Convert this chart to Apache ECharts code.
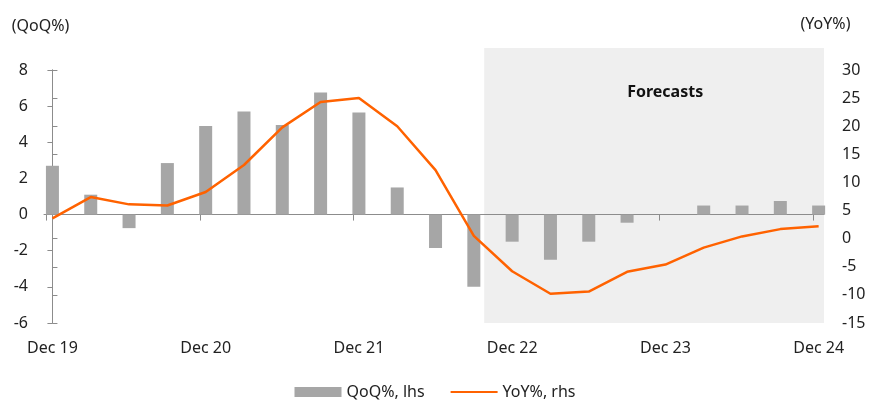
<!DOCTYPE html>
<html>
<head>
<meta charset="utf-8">
<style>
  html, body { margin: 0; padding: 0; background: #ffffff; }
  #chart { width: 870px; height: 400px; }
</style>
<script src="https://cdn.jsdelivr.net/npm/echarts@6/dist/echarts.min.js"></script>
</head>
<body>
<div id="chart"></div>
<script>
// Quarterly GDP: quarter-on-quarter (bars, left axis) and year-on-year (line, right axis)
const quarters = ['Dec 19', 'Mar 20', 'Jun 20', 'Sep 20', 'Dec 20', 'Mar 21', 'Jun 21', 'Sep 21',
  'Dec 21', 'Mar 22', 'Jun 22', 'Sep 22', 'Dec 22', 'Mar 23', 'Jun 23', 'Sep 23', 'Dec 23',
  'Mar 24', 'Jun 24', 'Sep 24', 'Dec 24'];
const qoq = [2.7, 1.1, -0.75, 2.85, 4.9, 5.7, 4.95, 6.75, 5.65, 1.5, -1.85, -4.0,
  -1.5, -2.5, -1.5, -0.45, 0.0, 0.5, 0.5, 0.75, 0.5];
const yoy = [3.6, 7.4, 6.1, 5.9, 8.3, 13.1, 19.8, 24.3, 25.0, 20.0, 12.2, 0.5,
  -5.8, -9.8, -9.4, -5.9, -4.6, -1.6, 0.4, 1.7, 2.2];
// Quarters that carry an axis label (every December)
const labelIndex = [0, 4, 8, 12, 16, 20];
// Forecast period starts after Sep 22 (index 11)
const forecastStart = 11.27;

const FONT = 'Noto Sans';
const TEXT = '#222222';
const AXIS = '#8c8c8c';
const BAR = '#a6a6a6';
const LINE = '#ff6200';

const toPairs = (arr) => arr.map((v, i) => [i, v]);

const chart = echarts.init(document.getElementById('chart'), null, { renderer: 'canvas' });

const xBase = {
  type: 'value',
  min: -0.22,
  max: 20.14,
  splitLine: { show: false }
};

chart.setOption({
  animation: false,
  textStyle: { fontFamily: FONT },
  grid: { left: 44, right: 46, top: 70, bottom: 77, containLabel: false },
  legend: {
    top: 379,
    left: 'center',
    itemWidth: 47,
    itemHeight: 10,
    itemGap: 25,
    textStyle: { fontFamily: FONT, fontSize: 16, color: TEXT },
    data: [
      { name: 'QoQ%, lhs', icon: 'rect' },
      { name: 'YoY%, rhs', itemStyle: { opacity: 0 } }
    ]
  },
  xAxis: [
    Object.assign({}, xBase, {
      position: 'bottom',
      axisLine: { show: false, onZero: false },
      axisTick: { show: false },
      axisLabel: {
        customValues: labelIndex,
        margin: 17,
        fontFamily: FONT,
        fontSize: 16,
        color: TEXT,
        formatter: (v) => quarters[Math.round(v)] || ''
      }
    }),
    Object.assign({}, xBase, {
      position: 'bottom',
      axisLine: { show: true, onZero: true, onZeroAxisIndex: 0, lineStyle: { color: AXIS, width: 1 } },
      axisTick: {
        show: true,
        length: 6,
        customValues: labelIndex.map((i) => i - 0.15),
        lineStyle: { color: AXIS }
      },
      axisLabel: { show: false }
    })
  ],
  yAxis: [
    {
      type: 'value',
      position: 'left',
      min: -6,
      max: 8,
      interval: 2,
      axisLine: { show: true, lineStyle: { color: AXIS } },
      axisTick: { show: true, length: 5, lineStyle: { color: AXIS } },
      axisLabel: { margin: 16, fontFamily: FONT, fontSize: 16, color: TEXT },
      splitLine: { show: false }
    },
    {
      type: 'value',
      position: 'right',
      min: -15,
      max: 30,
      interval: 5,
      axisLine: { show: true, lineStyle: { color: AXIS } },
      axisTick: { show: true, length: 5, lineStyle: { color: AXIS } },
      axisLabel: { margin: 18, fontFamily: FONT, fontSize: 16, color: TEXT },
      splitLine: { show: false }
    }
  ],
  series: [
    {
      name: 'QoQ%, lhs',
      type: 'bar',
      xAxisIndex: 0,
      yAxisIndex: 0,
      barWidth: 13,
      itemStyle: { color: BAR },
      z: 2,
      data: toPairs(qoq)
    },
    {
      name: 'YoY%, rhs',
      type: 'line',
      xAxisIndex: 0,
      yAxisIndex: 1,
      symbol: 'none',
      lineStyle: { color: LINE, width: 2.5 },
      itemStyle: { color: LINE },
      z: 3,
      data: toPairs(yoy)
    }
  ]
});

// Shaded forecast window, its heading and the axis units, placed from the grid
const gridRect = chart.getModel().getComponent('grid').coordinateSystem.getRect();
const shadeLeft = chart.convertToPixel({ xAxisIndex: 0 }, forecastStart);
const gridRight = gridRect.x + gridRect.width;
const shadeTop = gridRect.y - 22;
const shadeBottom = gridRect.y + gridRect.height;

const unitText = (text, x, y) => ({
  type: 'text',
  z: 5,
  silent: true,
  x: x,
  y: y,
  style: {
    text: text,
    fill: TEXT,
    font: '16px "Noto Sans"',
    textAlign: 'center',
    textVerticalAlign: 'middle'
  }
});

chart.setOption({
  graphic: [
    {
      type: 'rect',
      z: -10,
      silent: true,
      shape: { x: shadeLeft, y: shadeTop, width: gridRight - shadeLeft, height: shadeBottom - shadeTop },
      style: { fill: '#efefef' }
    },
    {
      type: 'text',
      z: 5,
      silent: true,
      x: shadeLeft + 143,
      y: shadeTop + 44,
      style: {
        text: 'Forecasts',
        fill: '#111111',
        font: 'bold 16px "Noto Sans"',
        textVerticalAlign: 'middle'
      }
    },
    unitText('(QoQ%)', gridRect.x - 3.5, gridRect.y - 44),
    unitText('(YoY%)', gridRight + 1.5, gridRect.y - 46)
  ]
});
</script>
</body>
</html>
